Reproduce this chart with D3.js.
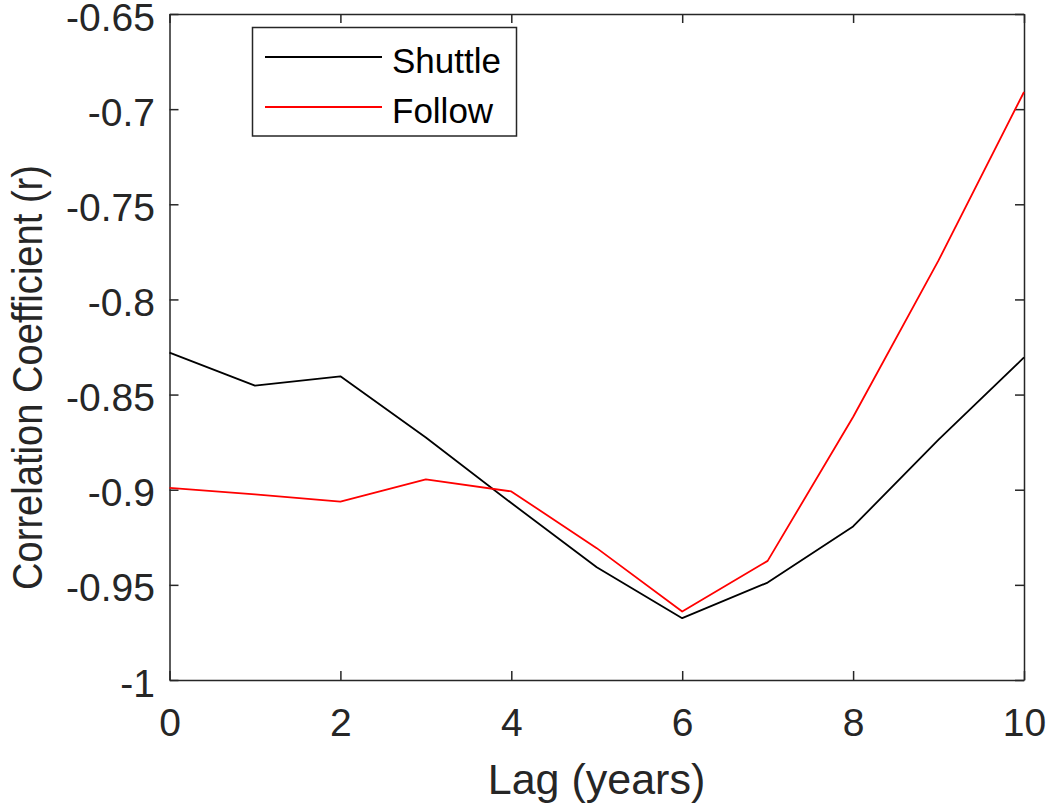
<!DOCTYPE html>
<html>
<head>
<meta charset="utf-8">
<script src="https://cdn.jsdelivr.net/npm/d3@7"></script>
<style>
  html, body { margin: 0; padding: 0; background: #fff; }
  svg { display: block; font-family: "Liberation Sans", Arial, Helvetica, sans-serif; }
</style>
</head>
<body>
<svg id="chart" width="1046" height="803"></svg>
<script>
// Lag in years and correlation coefficients for the two series
const lags = [0, 1, 2, 3, 4, 5, 6, 7, 8, 9, 10];
const shuttle = [-0.828, -0.8453, -0.8404, -0.8726, -0.907, -0.9407, -0.9675, -0.9488, -0.9193, -0.8737, -0.8305];
const follow = [-0.899, -0.9025, -0.9063, -0.8946, -0.9009, -0.9307, -0.964, -0.9374, -0.8618, -0.7795, -0.691];
const seriesNames = ["Shuttle", "Follow"];
const seriesColors = ["#000000", "#ff0000"];
const xTicks = [0, 2, 4, 6, 8, 10];
const yTicks = [-1, -0.95, -0.9, -0.85, -0.8, -0.75, -0.7, -0.65];

(function () {
  const svg = d3.select("#chart");
  const plotLeft = 169.5, plotRight = 1024, plotTop = 14, plotBottom = 680;
  const axisColor = "#262626";

  const x = d3.scaleLinear().domain([0, 10]).range([plotLeft, plotRight]);
  const y = d3.scaleLinear().domain([-1, -0.65]).range([plotBottom, plotTop]);

  const tickLen = 9;

  // Bottom axis with inward ticks
  const gx = svg.append("g").attr("transform", `translate(0,${plotBottom})`)
    .call(d3.axisBottom(x).tickValues(xTicks).tickSizeInner(-tickLen).tickSizeOuter(0).tickPadding(28).tickFormat(d3.format("d")));
  // Top mirror axis
  const gxt = svg.append("g").attr("transform", `translate(0,${plotTop})`)
    .call(d3.axisTop(x).tickValues(xTicks).tickSizeInner(-tickLen).tickSizeOuter(0).tickFormat(""));
  // Left axis
  const gy = svg.append("g").attr("transform", `translate(${plotLeft},0)`)
    .call(d3.axisLeft(y).tickValues(yTicks).tickSizeInner(-tickLen).tickSizeOuter(0).tickPadding(14.5).tickFormat(d => String(d)));
  // Right mirror axis
  const gyr = svg.append("g").attr("transform", `translate(${plotRight},0)`)
    .call(d3.axisRight(y).tickValues(yTicks).tickSizeInner(-tickLen).tickSizeOuter(0).tickFormat(""));

  [gx, gxt, gy, gyr].forEach(g => {
    g.select(".domain").attr("stroke", axisColor).attr("stroke-width", 1.5);
    g.selectAll(".tick line").attr("stroke", axisColor).attr("stroke-width", 1.5);
    g.selectAll(".tick text").attr("fill", axisColor).attr("font-size", 39)
      .attr("font-family", "'Liberation Sans', Arial, sans-serif");
  });
  gx.selectAll(".tick text").attr("dy", "0.71em");
  gy.selectAll(".tick text").attr("dy", "0.41em");

  // Data lines
  const line = d3.line().x(d => x(d[0])).y(d => y(d[1]));
  [shuttle, follow].forEach((vals, i) => {
    svg.append("path")
      .datum(lags.map((l, j) => [l, vals[j]]))
      .attr("fill", "none")
      .attr("stroke", seriesColors[i])
      .attr("stroke-width", 1.8)
      .attr("stroke-linejoin", "round")
      .attr("d", line);
  });

  // Axis titles
  svg.append("text")
    .attr("x", 596.5)
    .attr("y", 794)
    .attr("text-anchor", "middle")
    .attr("font-size", 43)
    .attr("fill", axisColor)
    .text("Lag (years)");

  svg.append("text")
    .attr("transform", `translate(42,377.5) rotate(-90)`)
    .attr("text-anchor", "middle")
    .attr("font-size", 43)
    .attr("textLength", 425)
    .attr("lengthAdjust", "spacingAndGlyphs")
    .attr("fill", axisColor)
    .text("Correlation Coefficient (r)");

  // Legend
  const legend = svg.append("g");
  legend.append("rect")
    .attr("x", 252.5).attr("y", 27.5).attr("width", 264).attr("height", 108.5)
    .attr("fill", "#fff").attr("stroke", axisColor).attr("stroke-width", 1.5);
  seriesNames.forEach((name, i) => {
    const ly = 57 + i * 50;
    legend.append("line")
      .attr("x1", 265).attr("x2", 382).attr("y1", ly).attr("y2", ly)
      .attr("stroke", seriesColors[i]).attr("stroke-width", 1.8);
    legend.append("text")
      .attr("x", 392).attr("y", ly + 16)
      .attr("font-size", 35).attr("fill", "#000")
      .text(name);
  });
})();
</script>
</body>
</html>
